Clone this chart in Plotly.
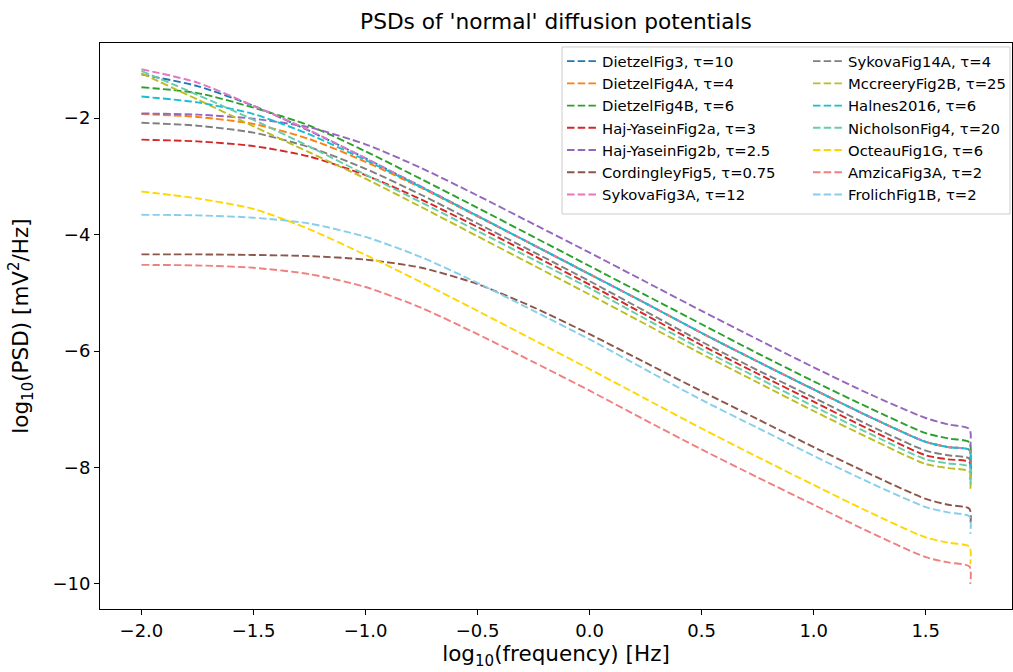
import plotly.graph_objects as go

# log10(frequency) sample points (last point = Nyquist bin drop)
log_freq = [-2.0, -1.75, -1.5, -1.25, -1.0, -0.75, -0.5, -0.25, 0.0,
            0.25, 0.5, 0.75, 1.0, 1.25, 1.5, 1.6, 1.695, 1.699]

# log10(PSD)
dietzel3 = [-1.25, -1.45, -1.79, -2.22, -2.69, -3.18, -3.68, -4.18, -4.68,
            -5.18, -5.69, -6.18, -6.66, -7.13, -7.56, -7.65, -7.70, -8.00]
dietzel4a = [-1.93, -1.98, -2.10, -2.36, -2.75, -3.20, -3.69, -4.18, -4.68,
             -5.18, -5.69, -6.18, -6.66, -7.13, -7.56, -7.65, -7.70, -8.00]
dietzel4b = [-1.47, -1.57, -1.82, -2.13, -2.57, -3.05, -3.54, -4.04, -4.54,
             -5.04, -5.54, -6.04, -6.52, -6.98, -7.41, -7.50, -7.57, -7.87]
haj2a = [-2.37, -2.40, -2.48, -2.66, -2.98, -3.40, -3.87, -4.36, -4.86,
         -5.38, -5.90, -6.39, -6.87, -7.35, -7.79, -7.86, -7.91, -8.21]
haj2b = [-1.92, -1.94, -2.01, -2.16, -2.45, -2.86, -3.33, -3.82, -4.31,
         -4.81, -5.31, -5.80, -6.28, -6.74, -7.15, -7.26, -7.34, -7.64]
cordingley5 = [-4.34, -4.34, -4.35, -4.37, -4.43, -4.57, -4.85, -5.25, -5.71,
               -6.20, -6.69, -7.17, -7.65, -8.11, -8.54, -8.64, -8.71, -9.01]
sykova3a = [-1.16, -1.39, -1.79, -2.21, -2.69, -3.18, -3.68, -4.18, -4.68,
            -5.18, -5.69, -6.18, -6.66, -7.13, -7.56, -7.65, -7.70, -8.00]
sykova14a = [-2.08, -2.13, -2.25, -2.50, -2.87, -3.32, -3.81, -4.30, -4.80,
             -5.32, -5.84, -6.33, -6.80, -7.28, -7.71, -7.79, -7.85, -8.15]
mccreery2b = [-1.23, -1.68, -2.14, -2.59, -3.04, -3.53, -4.03, -4.53, -5.03,
              -5.54, -6.05, -6.54, -7.03, -7.50, -7.94, -8.01, -8.07, -8.37]
halnes2016 = [-1.63, -1.73, -1.93, -2.28, -2.72, -3.19, -3.68, -4.18, -4.68,
              -5.18, -5.69, -6.18, -6.66, -7.13, -7.56, -7.65, -7.70, -8.00]
nicholson4 = [-1.19, -1.60, -2.03, -2.49, -2.97, -3.45, -3.94, -4.43, -4.92,
              -5.45, -5.97, -6.46, -6.95, -7.42, -7.86, -7.93, -7.99, -8.29]
octeau1g = [-3.26, -3.38, -3.56, -3.91, -4.35, -4.82, -5.31, -5.81, -6.31,
            -6.82, -7.33, -7.82, -8.30, -8.77, -9.20, -9.29, -9.36, -9.66]
amzica3a = [-4.52, -4.53, -4.57, -4.68, -4.90, -5.26, -5.71, -6.19, -6.68,
             -7.19, -7.69, -8.17, -8.64, -9.11, -9.54, -9.63, -9.70, -10.00]
frolich1b = [-3.66, -3.67, -3.71, -3.81, -4.04, -4.39, -4.83, -5.31, -5.80,
             -6.32, -6.84, -7.32, -7.80, -8.26, -8.68, -8.77, -8.84, -9.14]

names = ['DietzelFig3, τ=10', 'DietzelFig4A, τ=4', 'DietzelFig4B, τ=6',
         'Haj-YaseinFig2a, τ=3', 'Haj-YaseinFig2b, τ=2.5', 'CordingleyFig5, τ=0.75',
         'SykovaFig3A, τ=12', 'SykovaFig14A, τ=4', 'MccreeryFig2B, τ=25',
         'Halnes2016, τ=6', 'NicholsonFig4, τ=20', 'OcteauFig1G, τ=6',
         'AmzicaFig3A, τ=2', 'FrolichFig1B, τ=2']
series = [dietzel3, dietzel4a, dietzel4b, haj2a, haj2b, cordingley5, sykova3a,
          sykova14a, mccreery2b, halnes2016, nicholson4, octeau1g, amzica3a, frolich1b]
colors = ['#1f77b4', '#ff7f0e', '#2ca02c', '#d62728', '#9467bd', '#8c564b',
          '#e377c2', '#7f7f7f', '#bcbd22', '#17becf', '#66cdaa', '#ffd700',
          '#f08080', '#87ceeb']

FONT = 'DejaVu Sans'
W, H = 1013, 672

fig = go.Figure()
for i, (name, ys, c) in enumerate(zip(names, series, colors)):
    fig.add_trace(go.Scatter(
        x=log_freq, y=ys, mode='lines', name=name,
        line=dict(color=c, width=1.9, dash='7.5px,3.2px', shape='spline', smoothing=0.7),
        legend='legend' if i < 7 else 'legend2',
        legendgroup='g%d' % i,
    ))

# legend frame (matplotlib style)
fig.add_shape(type='rect', xref='paper', yref='paper',
              x0=0.5066, x1=0.9978, y0=0.6979, y1=0.993,
              line=dict(color='#cccccc', width=1), fillcolor='rgba(255,255,255,0.8)',
              layer='above')

leg_common = dict(font=dict(family=FONT, size=14.8, color='black'),
                  bgcolor='rgba(0,0,0,0)', borderwidth=0, tracegroupgap=0,
                  xanchor='left', yanchor='top', yref='paper', xref='paper')

fig.update_layout(
    width=W, height=H, autosize=False,
    margin=dict(l=100, r=1, t=43, b=63),
    paper_bgcolor='white', plot_bgcolor='white',
    font=dict(family=FONT, size=18, color='black'),
    title=dict(text="PSDs of 'normal' diffusion potentials", x=0.5, xref='paper',
               xanchor='center', y=1 - 21 / H, yref='container', yanchor='middle',
               font=dict(size=21.7, family=FONT)),
    showlegend=True,
    legend=dict(x=0.5066, y=0.9965, **leg_common),
    legend2=dict(x=0.7763, y=0.9965, **leg_common),
    xaxis=dict(range=[-2.185, 1.885], tick0=-2, dtick=0.5, tickformat='.1f',
               showgrid=False, zeroline=False, showline=True, mirror=True,
               linecolor='black', linewidth=1, ticks='outside', ticklen=5,
               tickwidth=1, tickcolor='black', automargin=False,
               title=dict(text='log<sub>10</sub>(frequency) [Hz]', standoff=6,
                          font=dict(size=21.5))),
    yaxis=dict(range=[-10.43, -0.71], tick0=-10, dtick=2,
               showgrid=False, zeroline=False, showline=True, mirror=True,
               linecolor='black', linewidth=1, ticks='outside', ticklen=5,
               tickwidth=1, tickcolor='black', automargin=False,
               title=dict(text='log<sub>10</sub>(PSD) [mV<sup>2</sup>/Hz]', standoff=17,
                          font=dict(size=21.5))),
)

post = ("document.body.style.margin='0';document.body.style.overflow='hidden';"
        "var gd=document.getElementById('{plot_id}');"
        "Plotly.relayout(gd,{width:%d,height:%d});" % (W, H))

fig.write_html('out.html', config={'responsive': False, 'displayModeBar': False},
               post_script=post)
